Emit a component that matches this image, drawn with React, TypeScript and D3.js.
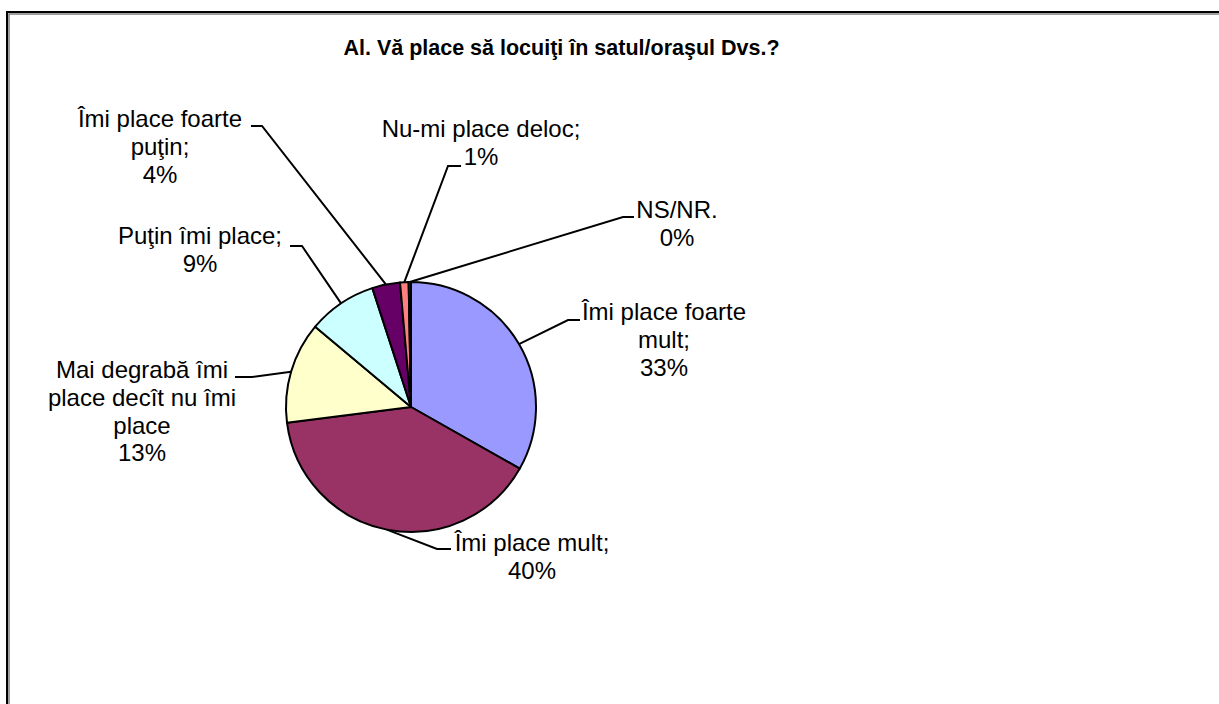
import React, { useEffect, useRef } from "react";
import * as d3 from "d3";

const categories = [
  "Îmi place foarte mult",
  "Îmi place mult",
  "Mai degrabă îmi place decît nu îmi place",
  "Puţin îmi place",
  "Îmi place foarte puţin",
  "Nu-mi place deloc",
  "NS/NR.",
];
const values = [33.2, 39.8, 13.1, 8.9, 3.6, 1.1, 0.3];
const colors = ["#9999FF", "#993366", "#FFFFCC", "#CCFFFF", "#660066", "#FF8080", "#0066CC"];
// wrapped label text, as the chart shows it
const labelLines = [
  ["Îmi place foarte", "mult;"],
  ["Îmi place mult;"],
  ["Mai degrabă îmi", "place decît nu îmi", "place"],
  ["Puţin îmi place;"],
  ["Îmi place foarte", "puţin;"],
  ["Nu-mi place deloc;"],
  ["NS/NR."],
];
const title = "Al. Vă place să locuiţi în satul/oraşul Dvs.?";

// label placement: text centre, first baseline, leader elbow, stub end
const labelLayout = [
  { x: 664, y: 320, elbow: [568, 320], stub: 580 },
  { x: 532, y: 551, elbow: [437, 549], stub: 451 },
  { x: 142, y: 378, elbow: [252, 377], stub: 235 },
  { x: 200, y: 244, elbow: [302, 246], stub: 290 },
  { x: 160, y: 127, elbow: [262, 126], stub: 251 },
  { x: 481, y: 137, elbow: [448, 166], stub: 461 },
  { x: 677, y: 218, elbow: [623, 217], stub: 634 },
];

export default function App() {
  const svgRef = useRef<SVGSVGElement>(null);

  useEffect(() => {
    const width = 1219;
    const height = 704;
    const cx = 411;
    const cy = 407;
    const radius = 125;
    const lineH = 27.8;

    const svg = d3.select(svgRef.current);
    svg.selectAll("*").remove();
    svg.attr("width", width).attr("height", height);

    svg.append("rect").attr("width", width).attr("height", height).attr("fill", "#fff");

    // chart frame (runs off the right and bottom)
    svg
      .append("path")
      .attr("d", `M7,${height + 5} V12 H${width + 5}`)
      .attr("fill", "none")
      .attr("stroke", "#000")
      .attr("stroke-width", 2);
    svg
      .append("path")
      .attr("d", `M9,${height + 5} V14 H${width + 5}`)
      .attr("fill", "none")
      .attr("stroke", "#808080")
      .attr("stroke-width", 1.5);

    svg
      .append("text")
      .text(title)
      .attr("x", 561.5)
      .attr("y", 55)
      .attr("text-anchor", "middle")
      .style("font-family", "'Liberation Sans', Arial, sans-serif")
      .style("font-weight", "bold")
      .style("font-size", "21.5px")
      .attr("fill", "#000");

    const total = d3.sum(values);
    const pie = d3.pie<number>().sort(null).value((d) => d);
    const arcs = pie(values);
    const arc = d3.arc<d3.PieArcDatum<number>>().innerRadius(0).outerRadius(radius);
    const edge = d3.arc<d3.PieArcDatum<number>>().innerRadius(radius).outerRadius(radius);

    const g = svg.append("g").attr("transform", `translate(${cx},${cy})`);

    // leader lines first, slices drawn over them
    const leaders = svg.append("g");
    arcs.forEach((a, i) => {
      const [ex, ey] = edge.centroid(a);
      const l = labelLayout[i];
      leaders
        .append("polyline")
        .attr("points", `${cx + ex},${cy + ey} ${l.elbow[0]},${l.elbow[1]} ${l.stub},${l.elbow[1]}`)
        .attr("fill", "none")
        .attr("stroke", "#000")
        .attr("stroke-width", 2);
    });

    g.selectAll("path")
      .data(arcs)
      .join("path")
      .attr("d", arc)
      .attr("fill", (d, i) => colors[i])
      .attr("stroke", "#000")
      .attr("stroke-width", 2)
      .attr("stroke-linejoin", "round");

    const labels = svg.append("g");
    arcs.forEach((a, i) => {
      const l = labelLayout[i];
      const lines = [...labelLines[i], `${Math.round((values[i] / total) * 100)}%`];
      const t = labels
        .append("text")
        .attr("text-anchor", "middle")
        .style("font-family", "'Liberation Sans', Arial, sans-serif")
        .style("font-size", "24px")
        .attr("fill", "#000");
      lines.forEach((s, j) => {
        t.append("tspan").attr("x", l.x).attr("y", l.y + j * lineH).text(s);
      });
    });
  }, []);

  return (
    <div>
      <svg ref={svgRef} style={{ position: "absolute", left: 0, top: 0 }}></svg>
    </div>
  );
}
